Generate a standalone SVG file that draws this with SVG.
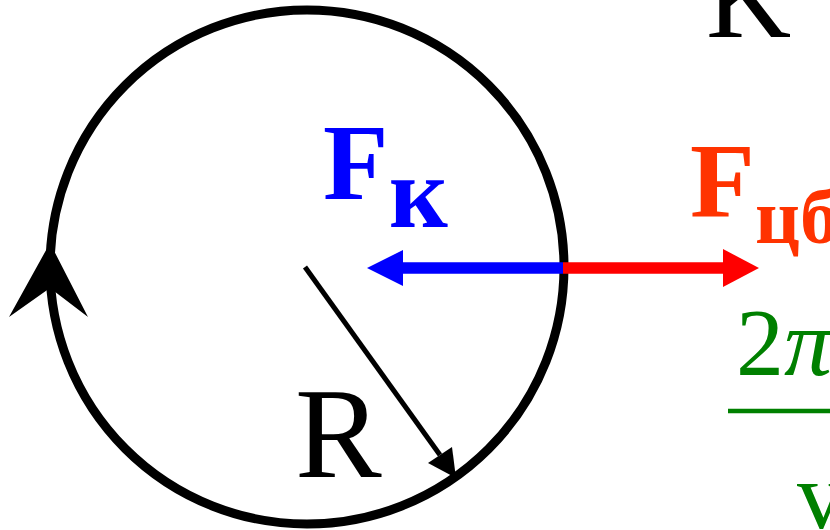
<svg xmlns="http://www.w3.org/2000/svg" width="830" height="530" viewBox="0 0 830 530">
<style>
text{font-family:"Liberation Serif","Times New Roman",serif}
</style>
<rect width="830" height="530" fill="#fff"/>
<g id="circle">
<circle cx="307" cy="267" r="257" fill="none" stroke="#000" stroke-width="9"/>
<polygon points="50,243 88,317 50,288 9,317" fill="#000"/>
</g>
<g id="connectors">
<g id="radius">
<line x1="305" y1="267" x2="440" y2="455" stroke="#000" stroke-width="5"/>
<polygon points="456,478 428,463 452,447" fill="#000"/>
</g>
<g id="fk-arrow">
<line x1="563" y1="268" x2="400" y2="268" stroke="#0000FF" stroke-width="11.5"/>
<polygon points="367,268 403,250 403,286" fill="#0000FF"/>
</g>
<g id="fcb-arrow">
<line x1="563" y1="268" x2="726" y2="268" stroke="#FF0000" stroke-width="11.5"/>
<polygon points="759,268 723,249 723,287" fill="#FF0000"/>
</g>
</g>
<g id="label-fk" font-weight="bold" fill="#0000FF">
<text x="323" y="199" font-size="107">F</text>
<text x="389" y="227" font-size="102">к</text>
</g>
<g id="label-fcb" font-weight="bold" fill="#FF3300">
<text x="690" y="217" font-size="106">F</text>
<text x="755" y="243" font-size="78">цб</text>
</g>
<g id="label-r" fill="#000">
<text x="295" y="477" font-size="130">R</text>
</g>
<g id="label-k" fill="#000">
<text x="706" y="37" font-size="118">K</text>
</g>
<g id="formula" fill="#008000">
<text x="736" y="375" font-size="96">2<tspan font-style="italic">π</tspan></text>
<line x1="728" y1="411" x2="830" y2="411" stroke="#008000" stroke-width="4.5"/>
<text x="797" y="528" font-size="96">v</text>
</g>
</svg>
